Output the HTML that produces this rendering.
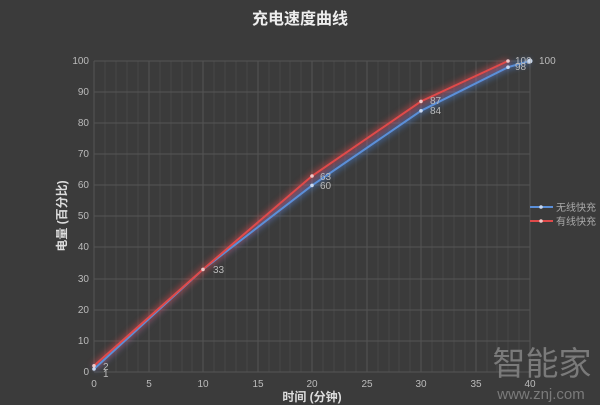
<!DOCTYPE html>
<html><head><meta charset="utf-8"><style>
body{margin:0;background:#3b3b3b;}
svg{display:block;font-family:"Liberation Sans","Noto Sans CJK SC",sans-serif;}
</style></head><body>
<svg width="600" height="405" viewBox="0 0 600 405">
<rect width="600" height="405" fill="#3b3b3b"/>
<defs><filter id="g" x="-10%" y="-10%" width="120%" height="120%"><feGaussianBlur stdDeviation="3"/></filter></defs>
<g stroke="#474747" stroke-width="1">
<path d="M105 61V372M116 61V372M127 61V372M138 61V372M160 61V372M171 61V372M182 61V372M192 61V372M214 61V372M225 61V372M236 61V372M247 61V372M269 61V372M280 61V372M290 61V372M301 61V372M323 61V372M334 61V372M345 61V372M356 61V372M378 61V372M389 61V372M399 61V372M410 61V372M432 61V372M443 61V372M454 61V372M465 61V372M487 61V372M497 61V372M508 61V372M519 61V372"/>
</g>
<g stroke="#555" stroke-width="1">
<path d="M94 61H530M94 92H530M94 123H530M94 154H530M94 185H530M94 216H530M94 247H530M94 279H530M94 310H530M94 341H530M94 372H530"/>
<path d="M94 61V372M149 61V372M203 61V372M258 61V372M312 61V372M367 61V372M421 61V372M476 61V372M530 61V372"/>
</g>
<g fill="none" stroke-width="6" opacity="0.5" filter="url(#g)">
<polyline stroke="#4a80d0" points="94,369 203,269.4 312,185.4 421,110.8 508,67.2 530,61"/>
<polyline stroke="#e04848" points="94,365.8 203,269.4 312,176 421,101.4 508,61"/>
</g>
<polyline fill="none" stroke="#5b8fd8" stroke-width="2" points="94,369 203,269.4 312,185.4 421,110.8 508,67.2 530,61"/>
<polyline fill="none" stroke="#e04a4a" stroke-width="2" points="94,365.8 203,269.4 312,176 421,101.4 508,61"/>
<g fill="#c8d8f0"><circle cx="94" cy="369" r="1.8"/><circle cx="312" cy="185.4" r="1.8"/><circle cx="421" cy="110.8" r="1.8"/><circle cx="508" cy="67.2" r="1.8"/><circle cx="530" cy="61" r="2.5"/></g>
<g fill="#f0c8c8"><circle cx="94" cy="365.8" r="1.8"/><circle cx="203" cy="269.4" r="1.8"/><circle cx="312" cy="176" r="1.8"/><circle cx="421" cy="101.4" r="1.8"/><circle cx="508" cy="61" r="1.8"/></g>
<g fill="#bbb" font-size="10">
<text x="103" y="370">2</text><text x="103" y="377">1</text>
<text x="213" y="273">33</text><text x="320" y="180">63</text><text x="320" y="189">60</text>
<text x="430" y="104">87</text><text x="430" y="114">84</text>
<text x="515" y="64">100</text><text x="515" y="70">98</text><text x="539" y="64">100</text>
</g>
<g fill="#bbb" font-size="10" text-anchor="end">
<text x="89" y="64">100</text><text x="89" y="95">90</text><text x="89" y="126">80</text><text x="89" y="157">70</text><text x="89" y="188">60</text><text x="89" y="219">50</text><text x="89" y="250">40</text><text x="89" y="282">30</text><text x="89" y="313">20</text><text x="89" y="344">10</text><text x="89" y="375">0</text>
</g>
<g fill="#bbb" font-size="10" text-anchor="middle">
<text x="94" y="387">0</text><text x="149" y="387">5</text><text x="203" y="387">10</text><text x="258" y="387">15</text><text x="312" y="387">20</text><text x="367" y="387">25</text><text x="421" y="387">30</text><text x="476" y="387">35</text><text x="530" y="387">40</text>
</g>
<text x="300" y="24" fill="#eee" font-size="16" font-weight="bold" text-anchor="middle">充电速度曲线</text>
<text x="312" y="401" fill="#ddd" font-size="12" font-weight="bold" text-anchor="middle">时间 (分钟)</text>
<text transform="translate(66,216) rotate(-90)" fill="#ddd" font-size="12" font-weight="bold" text-anchor="middle">电量 (百分比)</text>
<line x1="530" y1="207" x2="553" y2="207" stroke="#5b8fd8" stroke-width="2"/><circle cx="541" cy="207" r="1.8" fill="#c8d8f0"/>
<line x1="530" y1="221" x2="553" y2="221" stroke="#e04a4a" stroke-width="2"/><circle cx="541" cy="221" r="1.8" fill="#f0c8c8"/>
<text x="556" y="211" fill="#aaa" font-size="10">无线快充</text>
<text x="556" y="225" fill="#aaa" font-size="10">有线快充</text>
<text x="542" y="375" fill="#8a8a8a" font-size="33" text-anchor="middle" opacity="0.8">智能家</text>
<text x="541" y="399" fill="#8a8a8a" font-size="15" text-anchor="middle" opacity="0.8">www.znj.com</text>
</svg>
</body></html>
